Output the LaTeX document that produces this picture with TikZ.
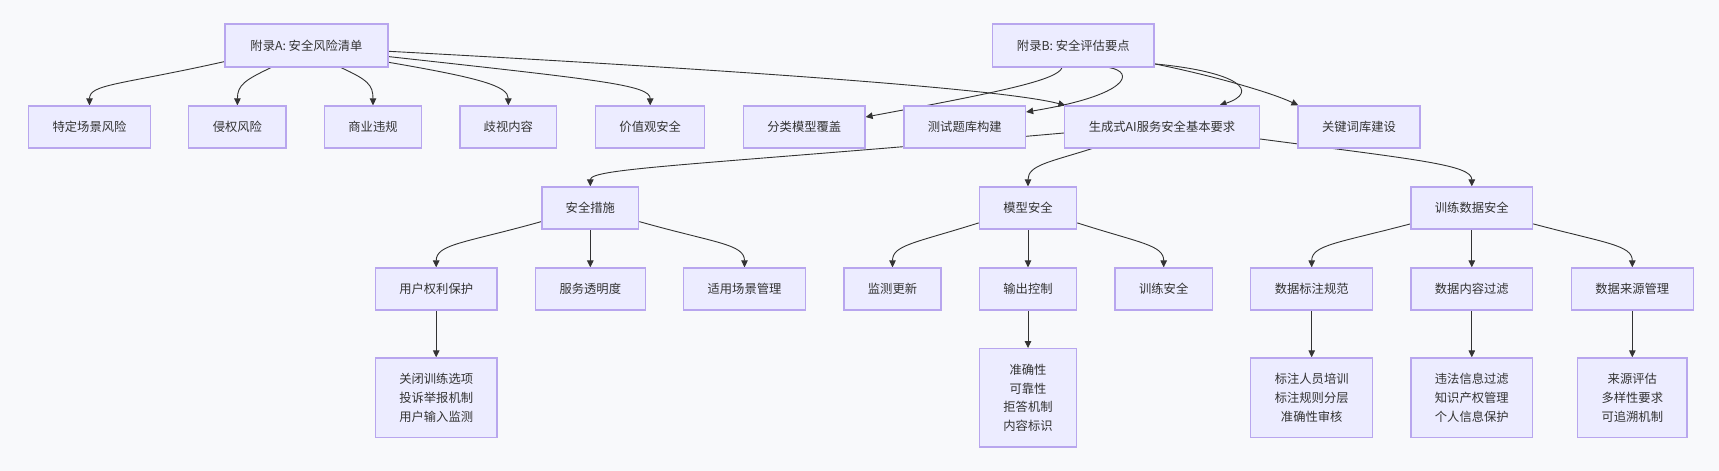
\documentclass[tikz,border=0pt]{standalone}
\usepackage{fontspec}
\newfontfamily\cjk{Noto Sans CJK SC}
\usetikzlibrary{arrows.meta}
\definecolor{bgc}{HTML}{F8F9FB}
\definecolor{nodefill}{HTML}{ECECFF}
\definecolor{nodeborder}{HTML}{B8A6EE}
\definecolor{linec}{HTML}{333333}
\pgfdeclarelayer{bglayer}
\pgfdeclarelayer{edgelayer}
\pgfsetlayers{bglayer,edgelayer,main}
\tikzset{
  box/.style={draw=nodeborder, fill=nodefill, line width=1.2pt, inner sep=0pt,
    text=linec, font=\cjk\fontsize{12.3}{18.8}\selectfont, align=center, anchor=center},
  conn/.style={draw=linec, line width=0.9pt, -{Triangle[length=7pt,width=6.5pt]}}
}
\begin{document}
\begin{tikzpicture}[x=1pt,y=-1pt]
\begin{pgfonlayer}{bglayer}
\fill[bgc] (0,0) rectangle (1719,471);
\end{pgfonlayer}
\useasboundingbox (0,0) rectangle (1719,471);
% top level
\node[box, minimum width=163pt, minimum height=43pt] (A) at (306.5,45.5) {附录A: 安全风险清单};
\node[box, minimum width=161.5pt, minimum height=43pt] (B) at (1073.3,45.5) {附录B: 安全评估要点};
% row 1
\node[box, minimum width=122pt, minimum height=42pt] (n1) at (89.5,127) {特定场景风险};
\node[box, minimum width=97.3pt, minimum height=42pt] (n2) at (237.4,127) {侵权风险};
\node[box, minimum width=97pt, minimum height=42pt] (n3) at (373,127) {商业违规};
\node[box, minimum width=96.5pt, minimum height=42pt] (n4) at (508.3,127) {歧视内容};
\node[box, minimum width=109.3pt, minimum height=42pt] (n5) at (650.2,127) {价值观安全};
\node[box, minimum width=121.4pt, minimum height=42pt] (fl) at (804.3,127) {分类模型覆盖};
\node[box, minimum width=121.5pt, minimum height=42pt] (cs) at (964.8,127) {测试题库构建};
\node[box, minimum width=195pt, minimum height=42pt] (sc) at (1162,127) {生成式AI服务安全基本要求};
\node[box, minimum width=122pt, minimum height=42pt] (gj) at (1359,127) {关键词库建设};
% row 2
\node[box, minimum width=96.8pt, minimum height=42pt] (aq) at (590.3,208) {安全措施};
\node[box, minimum width=97.4pt, minimum height=42pt] (mx) at (1028,208) {模型安全};
\node[box, minimum width=121.7pt, minimum height=42pt] (xl) at (1471.8,208) {训练数据安全};
% row 3
\node[box, minimum width=121.6pt, minimum height=42pt] (yh) at (436.2,289) {用户权利保护};
\node[box, minimum width=109.8pt, minimum height=42pt] (fw) at (590.3,289) {服务透明度};
\node[box, minimum width=122pt, minimum height=42pt] (sy) at (744.5,289) {适用场景管理};
\node[box, minimum width=97pt, minimum height=42pt] (jc) at (892.5,289) {监测更新};
\node[box, minimum width=97.4pt, minimum height=42pt] (sk) at (1028,289) {输出控制};
\node[box, minimum width=97.3pt, minimum height=42pt] (xa) at (1163.7,289) {训练安全};
\node[box, minimum width=122pt, minimum height=42pt] (bz) at (1311.7,289) {数据标注规范};
\node[box, minimum width=121.7pt, minimum height=42pt] (nr) at (1471.8,289) {数据内容过滤};
\node[box, minimum width=122pt, minimum height=42pt] (ly) at (1632.3,289) {数据来源管理};
% row 4
\node[box, minimum width=121.6pt, minimum height=79.7pt] (yhL) at (436.2,397.8) {关闭训练选项\\投诉举报机制\\用户输入监测};
\node[box, minimum width=97.4pt, minimum height=98.3pt] (skL) at (1028,397.8) {准确性\\可靠性\\拒答机制\\内容标识};
\node[box, minimum width=122pt, minimum height=79.7pt] (bzL) at (1311.7,397.8) {标注人员培训\\标注规则分层\\准确性审核};
\node[box, minimum width=121.7pt, minimum height=79.7pt] (nrL) at (1471.8,397.8) {违法信息过滤\\知识产权管理\\个人信息保护};
\node[box, minimum width=109.3pt, minimum height=79.7pt] (lyL) at (1632.3,397.8) {来源评估\\多样性要求\\可追溯机制};

\begin{pgfonlayer}{edgelayer}
% A edges
\draw[conn] ([yshift=6pt]A.south west) .. controls (120,85) and (89.5,84) .. (n1.north);
\draw[conn] ([xshift=-35.5pt]A.south) .. controls (245,80) and (237.4,85) .. (n2.north);
\draw[conn] ([xshift=34.5pt]A.south) .. controls (368,80) and (373,85) .. (n3.north);
\draw[conn] ([yshift=5.3pt]A.south east) .. controls (480,78) and (508.3,86) .. (n4.north);
\draw[conn] ([yshift=11pt]A.south east) .. controls (600,80) and (650.2,85) .. (n5.north);
\draw[conn] ([yshift=16.3pt]A.south east) .. controls (700,68) and (1000,88) .. ([xshift=1.5pt]sc.north west);
% B edges
\draw[conn] ([xshift=-11.3pt]B.south) .. controls (1058,80) and (1000,92) .. ([yshift=10pt]fl.east);
\draw[conn] ([xshift=36pt]B.south) .. controls (1135,72) and (1130,95) .. ([yshift=15pt]cs.east);
\draw[conn] ([yshift=3.7pt]B.south east) .. controls (1240,72) and (1260,92) .. ([xshift=57.5pt]sc.north);
\draw[conn] ([yshift=3.7pt]B.south east) .. controls (1210,75) and (1270,92) .. ([xshift=1pt]gj.north west);
% sc edges
\draw[conn] ([yshift=-6pt]sc.west) .. controls (700,165) and (590.3,168) .. (aq.north);
\draw[conn] ([xshift=-70pt]sc.south) .. controls (1050,162) and (1028,165) .. (mx.north);
\draw[conn] ([yshift=-12pt]sc.east) .. controls (1420,160) and (1471.8,165) .. (xl.north);
% aq edges
\draw[conn] ([yshift=8pt]aq.south west) .. controls (465,243) and (436.2,244) .. (yh.north);
\draw[conn] (aq.south) -- (fw.north);
\draw[conn] ([yshift=8pt]aq.south east) .. controls (715,243) and (744.5,244) .. (sy.north);
\draw[conn] (yh.south) -- (yhL.north);
% mx edges
\draw[conn] ([yshift=6.7pt]mx.south west) .. controls (915,243) and (892.5,245) .. (jc.north);
\draw[conn] (mx.south) -- (sk.north);
\draw[conn] ([yshift=6.7pt]mx.south east) .. controls (1140,243) and (1163.7,245) .. (xa.north);
\draw[conn] (sk.south) -- (skL.north);
% xl edges
\draw[conn] ([yshift=5.7pt]xl.south west) .. controls (1338,243) and (1311.7,245) .. (bz.north);
\draw[conn] (xl.south) -- (nr.north);
\draw[conn] ([yshift=5.7pt]xl.south east) .. controls (1605,243) and (1632.3,245) .. (ly.north);
\draw[conn] (bz.south) -- (bzL.north);
\draw[conn] (nr.south) -- (nrL.north);
\draw[conn] (ly.south) -- (lyL.north);
\end{pgfonlayer}
\end{tikzpicture}
\end{document}
